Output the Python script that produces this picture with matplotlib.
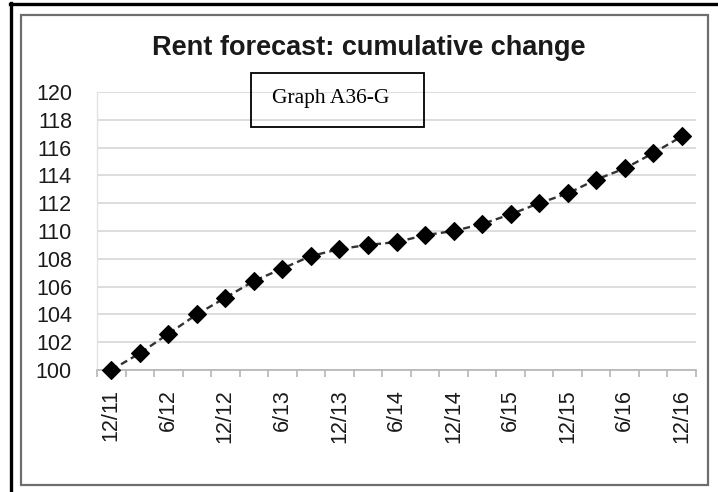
import matplotlib
matplotlib.use("Agg")
import matplotlib.pyplot as plt
from matplotlib.patches import Rectangle
from matplotlib.lines import Line2D

# Quarterly rent index, 12/11 = 100
periods = ["12/11", "3/12", "6/12", "9/12", "12/12", "3/13", "6/13", "9/13",
           "12/13", "3/14", "6/14", "9/14", "12/14", "3/15", "6/15", "9/15",
           "12/15", "3/16", "6/16", "9/16", "12/16"]
index_values = [100.0, 101.2, 102.6, 104.0, 105.2, 106.4, 107.3, 108.2,
                108.7, 109.0, 109.2, 109.7, 110.0, 110.5, 111.2, 112.0,
                112.7, 113.7, 114.5, 115.6, 116.8]
y_ticks = list(range(100, 121, 2))

W, H = 718, 492
fig = plt.figure(figsize=(W / 100, H / 100), dpi=100)
fig.patch.set_facecolor("white")


def fx(px):
    return px / W


def fy(py):
    return 1 - py / H


# plot area
ax = fig.add_axes([fx(97), fy(370), fx(696) - fx(97), fy(92) - fy(370)])
x = list(range(len(periods)))
ax.plot(x, index_values, color="#333333", lw=1.7, ls=(0, (3.0, 1.8)),
        marker="D", ms=9.6, mfc="black", mec="black", mew=0.8,
        clip_on=False, zorder=3)

ax.set_xlim(-0.5, len(periods) - 0.5)
ax.set_ylim(100, 120)
ax.set_yticks(y_ticks)
ax.set_yticklabels([str(v) for v in y_ticks], fontsize=15.5,
                   family="Liberation Sans", color="#1a1a1a")
ax.tick_params(axis="y", length=0, pad=18)

ax.set_xticks(x[::2])
ax.set_xticklabels(periods[::2], rotation=90, fontsize=15.5,
                   family="Liberation Sans", color="#1a1a1a", va="top")
ax.set_xticks([i - 0.5 for i in range(len(periods) + 1)], minor=True)
ax.tick_params(axis="x", which="major", length=0, pad=14)
ax.tick_params(axis="x", which="minor", length=5, width=1.2, color="#b5b5b5")

ax.yaxis.grid(True, color="#dadada", lw=1.3)
ax.set_axisbelow(True)
for side in ("top", "right"):
    ax.spines[side].set_visible(False)
ax.spines["left"].set_color("#e2e2e2")
ax.spines["left"].set_linewidth(1.0)
ax.spines["bottom"].set_color("#b5b5b5")
ax.spines["bottom"].set_linewidth(1.2)

# title
fig.text(fx(369), fy(55), "Rent forecast: cumulative change",
         ha="center", va="baseline", fontsize=19.5, fontweight="bold",
         family="Liberation Sans", color="#1a1a1a")

# label box
fig.patches.append(Rectangle((fx(251), fy(127)), fx(424) - fx(251),
                             fy(73) - fy(127), transform=fig.transFigure,
                             fill=False, ec="black", lw=1.3, zorder=5))
fig.text(fx(272), fy(103), "Graph A36-G", ha="left", va="baseline",
         fontsize=15.5, family="Liberation Serif", color="black", zorder=6)

# chart frame
fig.patches.append(Rectangle((fx(21), fy(485)), fx(708) - fx(21),
                             fy(15) - fy(485), transform=fig.transFigure,
                             fill=False, ec="#6e6e6e", lw=1.6, zorder=5))
# page frame
fig.lines.append(Line2D([fx(10), 1.0], [fy(4), fy(4)], transform=fig.transFigure,
                        color="black", lw=2.4))
fig.lines.append(Line2D([fx(10.5), fx(10.5)], [0.0, fy(3)], transform=fig.transFigure,
                        color="black", lw=2.4))

fig.savefig("out.png", dpi=100, facecolor="white")
